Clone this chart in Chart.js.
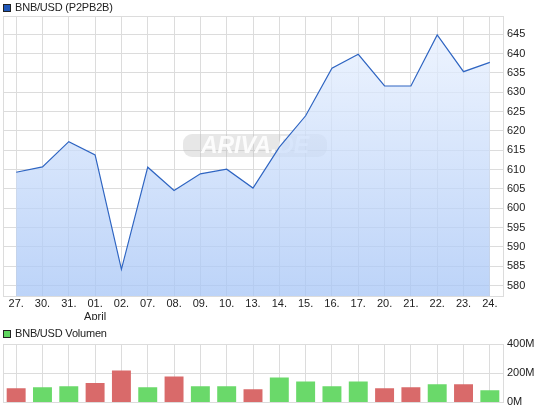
<!DOCTYPE html>
<html>
<head>
<meta charset="utf-8">
<script src="https://cdn.jsdelivr.net/npm/chart.js@4"></script>
<style>
  html, body { margin: 0; padding: 0; background: #fff; }
  body { width: 545px; height: 413px; position: relative; overflow: hidden; font-family: "Liberation Sans", Arial, sans-serif; }
  .box { position: absolute; left: 0; width: 545px; }
  .legend { position: absolute; left: 3px; font-size: 11px; color: #222; line-height: 13px; white-space: nowrap; letter-spacing: -0.2px; }
  .legend .sw { display: inline-block; width: 6px; height: 6px; border: 1px solid #222; vertical-align: -1px; margin-right: 4px; }
</style>
</head>
<body>
<div class="box" style="top:0;height:320px"><canvas id="chart-price"></canvas></div>
<div class="box" style="top:320px;height:93px"><canvas id="chart-volume"></canvas></div>
<div class="legend" style="top:1px"><span class="sw" style="background:#1f57b8"></span>BNB/USD (P2PB2B)</div>
<div class="legend" style="top:327px"><span class="sw" style="background:#5fd65f"></span>BNB/USD Volumen</div>
<script>
const dates = ['27.', '30.', '31.', ['01.', 'April'], '02.', '07.', '08.', '09.', '10.', '13.', '14.', '15.', '16.', '17.', '20.', '21.', '22.', '23.', '24.'];
const prices = [609.3, 610.7, 617.2, 613.8, 584.2, 610.6, 604.6, 608.9, 610.1, 605.2, 615.8, 623.9, 636.2, 639.8, 631.6, 631.6, 644.8, 635.3, 637.7];
const volumes = [97e6, 104e6, 110e6, 133e6, 219e6, 104e6, 178e6, 110e6, 110e6, 90e6, 171e6, 144e6, 110e6, 144e6, 97e6, 104e6, 124e6, 124e6, 84e6];
const priceTicks = [580, 585, 590, 595, 600, 605, 610, 615, 620, 625, 630, 635, 640, 645];
const volumeTicks = [0, 200e6, 400e6];

const gridColor = '#dcdcdc';
const font = { family: '"Liberation Sans", Arial, sans-serif', size: 11 };

const frame = {
  id: 'frame',
  afterDraw(chart) {
    const { ctx, chartArea: a } = chart;
    ctx.save();
    ctx.strokeStyle = gridColor;
    ctx.lineWidth = 1;
    ctx.strokeRect(Math.round(a.left) + 0.5, Math.round(a.top) + 0.5, Math.round(a.right - a.left), Math.round(a.bottom - a.top));
    ctx.restore();
  }
};

const watermark = {
  id: 'watermark',
  beforeDatasetsDraw(chart) {
    const { ctx, chartArea: a } = chart;
    const cx = (a.left + a.right) / 2 + 2, cy = 146;
    ctx.save();
    ctx.fillStyle = 'rgba(185,185,185,0.35)';
    ctx.beginPath();
    ctx.roundRect(cx - 72, cy - 12, 144, 23, 9);
    ctx.fill();
    ctx.font = 'italic bold 23px "Liberation Sans", Arial, sans-serif';
    ctx.textAlign = 'center';
    ctx.textBaseline = 'middle';
    ctx.fillStyle = 'rgba(255,255,255,0.9)';
    ctx.fillText('ARIVA.DE', cx, cy + 1);
    ctx.restore();
  }
};

new Chart(document.getElementById('chart-price'), {
  type: 'line',
  data: {
    labels: dates,
    datasets: [{
      data: prices,
      borderColor: '#2f65c2',
      borderWidth: 1.2,
      pointRadius: 0,
      tension: 0,
      fill: 'start',
      backgroundColor: (c) => {
        const a = c.chart.chartArea;
        if (!a) return 'rgba(200,215,245,0.7)';
        const g = c.chart.ctx.createLinearGradient(0, a.top, 0, a.bottom);
        g.addColorStop(0, 'rgba(236,243,255,0.75)');
        g.addColorStop(1, 'rgba(166,197,246,0.75)');
        return g;
      }
    }]
  },
  options: {
    responsive: true,
    maintainAspectRatio: false,
    animation: false,
    layout: { padding: { top: 16, left: 3, right: 0, bottom: 0 } },
    plugins: { legend: { display: false }, tooltip: { enabled: false } },
    scales: {
      x: {
        offset: true,
        grid: { color: gridColor, drawTicks: false, offset: false },
        border: { color: gridColor },
        ticks: { color: '#222', font, padding: 1, maxRotation: 0, autoSkip: false },
        afterFit: (s) => { s.height = 24; }
      },
      y: {
        position: 'right',
        min: 577.3,
        max: 649.7,
        afterBuildTicks: (s) => { s.ticks = priceTicks.map((v) => ({ value: v })); },
        grid: { color: gridColor, drawTicks: false },
        border: { color: gridColor },
        ticks: { color: '#222', font, padding: 4 },
        afterFit: (s) => { s.width = 42; }
      }
    }
  },
  plugins: [watermark, frame]
});

new Chart(document.getElementById('chart-volume'), {
  type: 'bar',
  data: {
    labels: dates,
    datasets: [{
      data: volumes,
      backgroundColor: volumes.map((_, i) => (i > 0 && prices[i] > prices[i - 1] ? '#6ad96a' : '#d96a6a')),
      borderWidth: 0,
      barPercentage: 0.72,
      categoryPercentage: 1
    }]
  },
  options: {
    responsive: true,
    maintainAspectRatio: false,
    animation: false,
    layout: { padding: { top: 24, left: 3, right: 0, bottom: 0 } },
    plugins: { legend: { display: false }, tooltip: { enabled: false } },
    scales: {
      x: {
        offset: true,
        grid: { color: gridColor, drawTicks: false, offset: false },
        border: { color: gridColor },
        ticks: { display: false },
        afterFit: (s) => { s.height = 10; }
      },
      y: {
        position: 'right',
        min: 0,
        max: 400e6,
        afterBuildTicks: (s) => { s.ticks = volumeTicks.map((v) => ({ value: v })); },
        grid: { color: gridColor, drawTicks: false },
        border: { color: gridColor },
        ticks: { color: '#222', font, padding: 4, callback: (v) => (v / 1e6) + 'M' },
        afterFit: (s) => { s.width = 42; }
      }
    }
  },
  plugins: [frame]
});
</script>
</body>
</html>
